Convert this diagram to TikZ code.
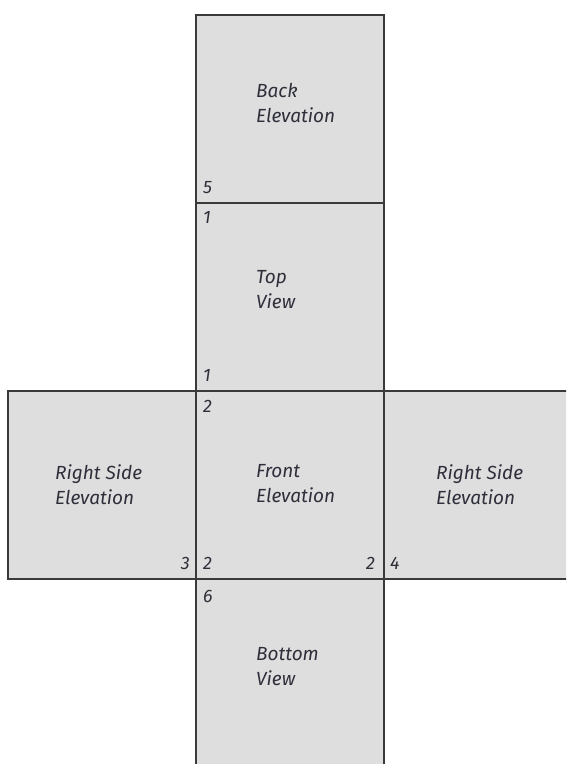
\documentclass[tikz,border=0pt]{standalone}
\usepackage{fontspec}
\setmainfont{Fira Sans}
\usetikzlibrary{positioning}
\definecolor{facegray}{HTML}{DEDEDE}
\definecolor{edgegray}{HTML}{3A3A3A}
\definecolor{inkgray}{HTML}{2E2F3A}

\begin{document}
\begin{tikzpicture}[x=1pt, y=-1pt,
		face/.style={draw=edgegray, fill=facegray, line width=1.4pt,
			minimum size=188pt, inner sep=0pt, outer sep=0pt},
		viewname/.style={anchor=north west, align=left, inner sep=0pt, text=inkgray,
			font=\fontsize{19}{25}\selectfont\itshape},
		edgenum/.style={inner sep=0pt, text=inkgray,
			font=\fontsize{18}{20}\selectfont\itshape}]
	\useasboundingbox (0,0) rectangle (566,764);
	\clip (0,0) rectangle (566,764);
	% faces of the unfolded box
	\node[face] (back) at (290,109) {};
	\node[face, below=0pt of back] (top) {};
	\node[face, below=0pt of top] (front) {};
	\node[face, below=0pt of front] (bottom) {};
	\node[face, left=0pt of front] (left) {};
	\node[face, right=0pt of front] (right) {};
	% view names
	\node[viewname] (backname) at ([shift={(60,68)}]back.north west) {Back\\Elevation};
	\node[viewname] (topname) at ([shift={(60,67)}]top.north west) {Top\\View};
	\node[viewname] (frontname) at ([shift={(60,73)}]front.north west) {Front\\Elevation};
	\node[viewname] (leftname) at ([shift={(47,73)}]left.north west) {Right Side\\Elevation};
	\node[viewname] (rightname) at ([shift={(52,73)}]right.north west) {Right Side\\Elevation};
	\node[viewname] (bottomname) at ([shift={(60,68)}]bottom.north west) {Bottom\\View};
	% edge numbers
	\node[edgenum, anchor=base west] (n5) at ([shift={(7,-10)}]back.south west) {5};
	\node[edgenum, anchor=base west] (n1a) at ([shift={(7,20)}]top.north west) {1};
	\node[edgenum, anchor=base west] (n1b) at ([shift={(7,-10)}]top.south west) {1};
	\node[edgenum, anchor=base west] (n2a) at ([shift={(7,21)}]front.north west) {2};
	\node[edgenum, anchor=base west] (n2b) at ([shift={(7,-10)}]front.south west) {2};
	\node[edgenum, anchor=base east] (n2c) at ([shift={(-9,-10)}]front.south east) {2};
	\node[edgenum, anchor=base east] (n3) at ([shift={(-6,-10)}]left.south east) {3};
	\node[edgenum, anchor=base west] (n4) at ([shift={(6,-10)}]right.south west) {4};
	\node[edgenum, anchor=base west] (n6) at ([shift={(7,23)}]bottom.north west) {6};
\end{tikzpicture}
\end{document}
